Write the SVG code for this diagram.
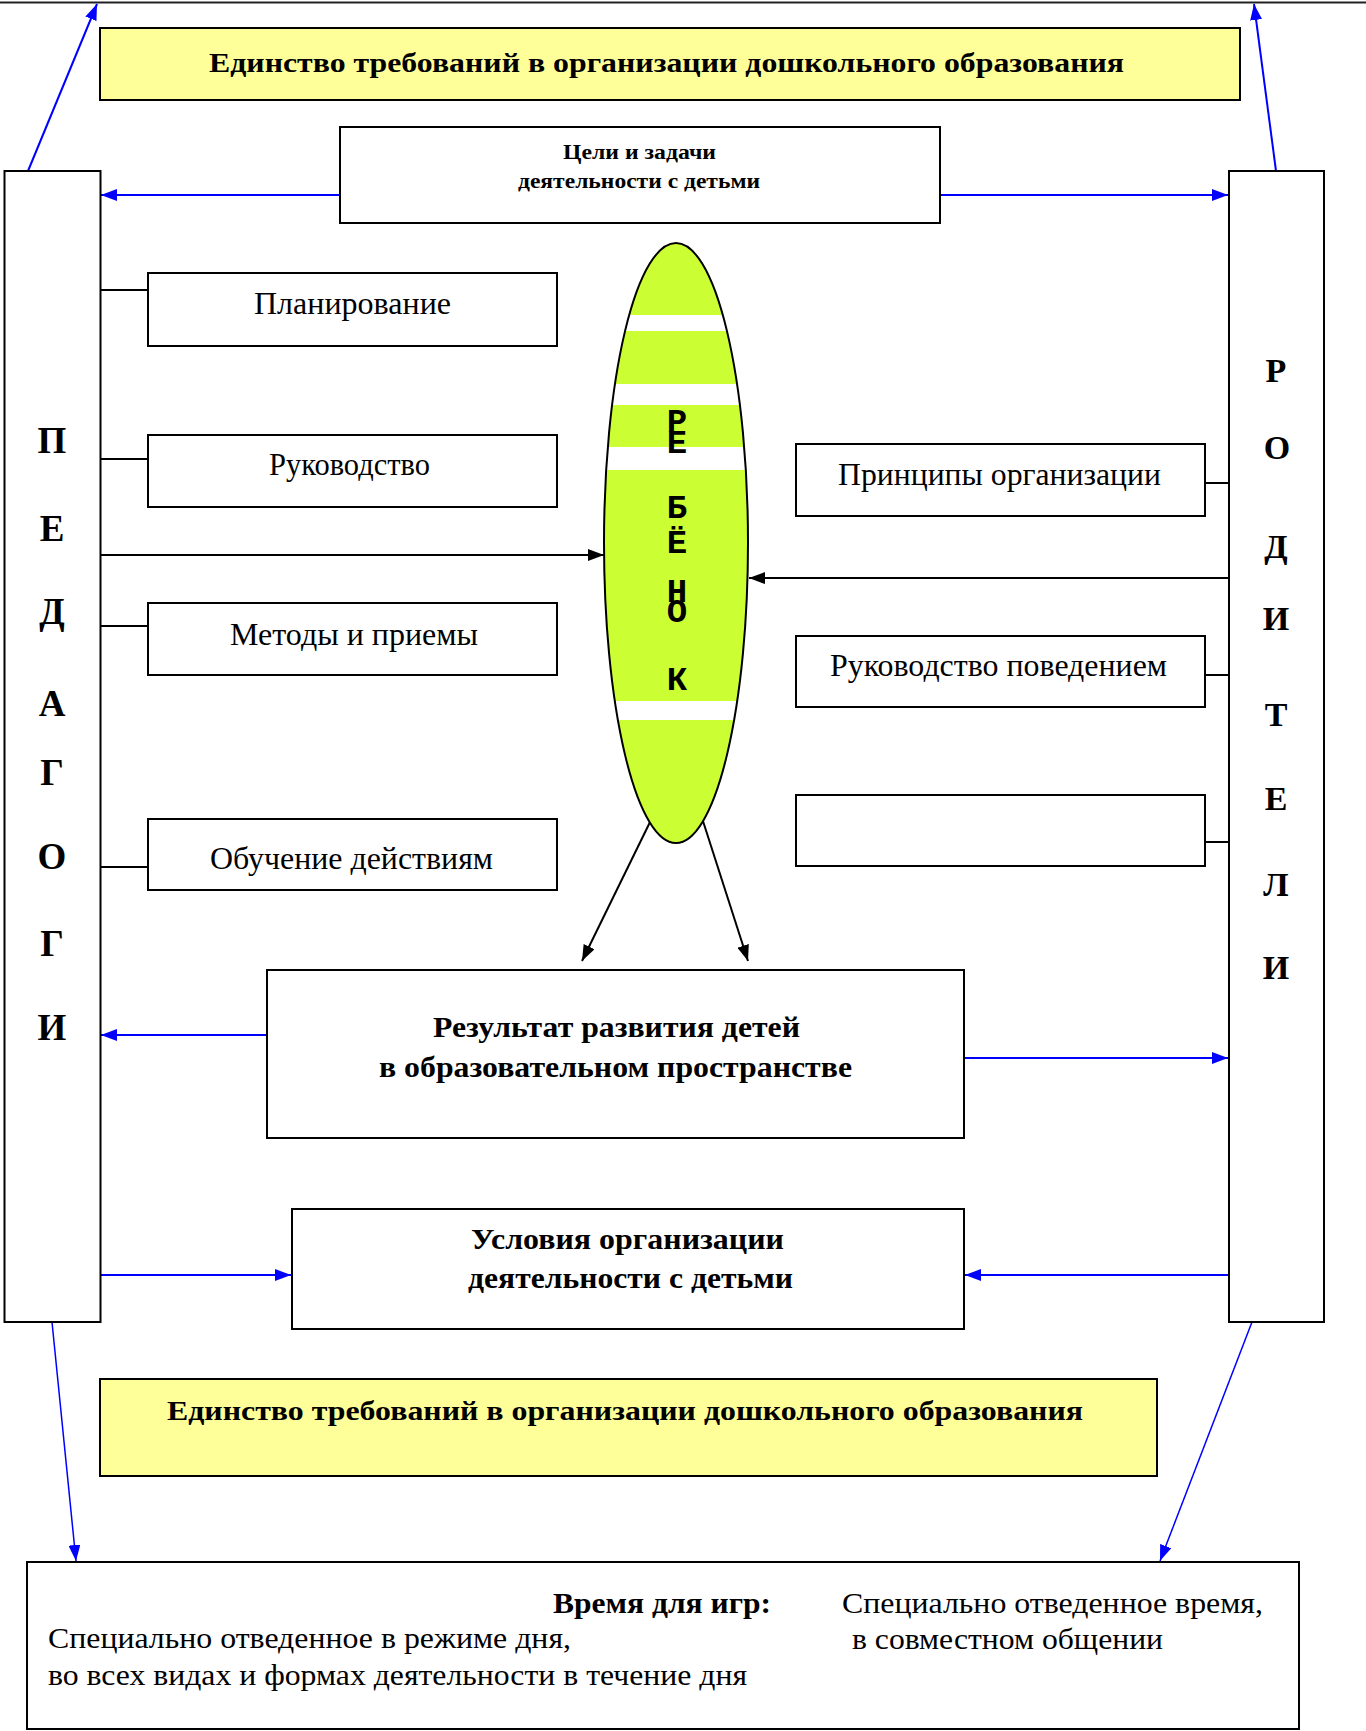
<svg xmlns="http://www.w3.org/2000/svg" width="1366" height="1731" viewBox="0 0 1366 1731">
<style>
.box{fill:#ffffff;stroke:#000;stroke-width:2}
.yel{fill:#ffff99;stroke:#000;stroke-width:2}
.t{font-family:"Liberation Serif","Times New Roman",serif;fill:#000}
.b{font-weight:bold}
.c{text-anchor:middle}
.blue{stroke:#0000ff;stroke-width:2;fill:none}
.blk{stroke:#000;stroke-width:2;fill:none}
.thin{stroke:#0000ff;stroke-width:1.5;fill:none}
.mono{font-family:"Liberation Mono","Courier New",monospace;font-weight:bold;font-size:34px;text-anchor:middle}
</style>
<defs>
<marker id="ab" markerUnits="userSpaceOnUse" markerWidth="16" markerHeight="12" refX="16" refY="6" orient="auto"><path d="M0,0 L16,6 L0,12 z" fill="#0000ff"/></marker>
<marker id="ak" markerUnits="userSpaceOnUse" markerWidth="16" markerHeight="12" refX="16" refY="6" orient="auto"><path d="M0,0 L16,6 L0,12 z" fill="#000"/></marker>
<clipPath id="ec"><ellipse cx="676" cy="543" rx="72" ry="300"/></clipPath>
</defs>

<g id="connectors">
<line x1="0" y1="2.5" x2="1366" y2="2.5" stroke="#222" stroke-width="2"/>
<line class="blue" x1="28" y1="171" x2="97" y2="4" marker-end="url(#ab)"/>
<line class="blue" x1="1276" y1="171" x2="1254" y2="4" marker-end="url(#ab)"/>
<line class="blue" x1="340" y1="195" x2="101" y2="195" marker-end="url(#ab)"/>
<line class="blue" x1="940" y1="195" x2="1228" y2="195" marker-end="url(#ab)"/>
<line class="blk" x1="100" y1="290" x2="148" y2="290"/>
<line class="blk" x1="100" y1="459" x2="148" y2="459"/>
<line class="blk" x1="100" y1="626" x2="148" y2="626"/>
<line class="blk" x1="100" y1="867" x2="148" y2="867"/>
<line class="blk" x1="1205" y1="483" x2="1229" y2="483"/>
<line class="blk" x1="1205" y1="675" x2="1229" y2="675"/>
<line class="blk" x1="1205" y1="842" x2="1229" y2="842"/>
<line class="blk" x1="100" y1="555" x2="604" y2="555" marker-end="url(#ak)"/>
<line class="blk" x1="1229" y1="578" x2="749" y2="578" marker-end="url(#ak)"/>
<line class="blk" x1="652" y1="818" x2="582" y2="961" marker-end="url(#ak)"/>
<line class="blk" x1="702" y1="818" x2="748" y2="961" marker-end="url(#ak)"/>
<line class="blue" x1="267" y1="1035" x2="101" y2="1035" marker-end="url(#ab)"/>
<line class="blue" x1="964" y1="1058" x2="1228" y2="1058" marker-end="url(#ab)"/>
<line class="blue" x1="101" y1="1275" x2="291" y2="1275" marker-end="url(#ab)"/>
<line class="blue" x1="1228" y1="1275" x2="965" y2="1275" marker-end="url(#ab)"/>
<line class="thin" x1="52" y1="1322" x2="76" y2="1561" marker-end="url(#ab)"/>
<line class="thin" x1="1252" y1="1322" x2="1160" y2="1561" marker-end="url(#ab)"/>
</g>

<g id="top-unity">
<rect class="yel" x="100" y="28" width="1140" height="72"/>
<text class="t b" x="209" y="72" font-size="28" textLength="915" lengthAdjust="spacingAndGlyphs">Единство требований в организации дошкольного образования</text>
</g>

<g id="goals">
<rect class="box" x="340" y="127" width="600" height="96"/>
<text class="t b" x="563" y="159" font-size="22" textLength="153" lengthAdjust="spacingAndGlyphs">Цели и задачи</text>
<text class="t b" x="518" y="188" font-size="22" textLength="242" lengthAdjust="spacingAndGlyphs">деятельности с детьми</text>
</g>

<g id="pedagogi">
<rect class="box" x="4.5" y="171" width="96" height="1151"/>
<g class="t b c" font-size="37">
<text x="52" y="453">П</text>
<text x="52" y="541">Е</text>
<text x="52" y="624">Д</text>
<text x="52" y="716">А</text>
<text x="52" y="785">Г</text>
<text x="52" y="869">О</text>
<text x="52" y="956">Г</text>
<text x="52" y="1040">И</text>
</g>
</g>

<g id="roditeli">
<rect class="box" x="1229" y="171" width="95" height="1151"/>
<g class="t b c" font-size="34">
<text x="1276" y="382">Р</text>
<text x="1277" y="459">О</text>
<text x="1276" y="558">Д</text>
<text x="1276" y="630">И</text>
<text x="1276" y="726">Т</text>
<text x="1276" y="810">Е</text>
<text x="1276" y="896">Л</text>
<text x="1276" y="979">И</text>
</g>
</g>

<g id="planirovanie">
<rect class="box" x="148" y="273" width="409" height="73"/>
<text class="t" x="254" y="314" font-size="31" textLength="197" lengthAdjust="spacingAndGlyphs">Планирование</text>
</g>
<g id="rukovodstvo">
<rect class="box" x="148" y="435" width="409" height="72"/>
<text class="t" x="269" y="475" font-size="31" textLength="161" lengthAdjust="spacingAndGlyphs">Руководство</text>
</g>
<g id="metody">
<rect class="box" x="148" y="603" width="409" height="72"/>
<text class="t" x="230" y="645" font-size="31" textLength="248" lengthAdjust="spacingAndGlyphs">Методы и приемы</text>
</g>
<g id="obuchenie">
<rect class="box" x="148" y="819" width="409" height="71"/>
<text class="t" x="210" y="869" font-size="31" textLength="283" lengthAdjust="spacingAndGlyphs">Обучение действиям</text>
</g>

<g id="principy">
<rect class="box" x="796" y="444" width="409" height="72"/>
<text class="t" x="838" y="485" font-size="31" textLength="323" lengthAdjust="spacingAndGlyphs">Принципы организации</text>
</g>
<g id="rukovodstvo-povedeniem">
<rect class="box" x="796" y="636" width="409" height="71"/>
<text class="t" x="830" y="676" font-size="31" textLength="337" lengthAdjust="spacingAndGlyphs">Руководство поведением</text>
</g>
<g id="empty-box">
<rect class="box" x="796" y="795" width="409" height="71"/>
</g>

<g id="rebenok">
<ellipse cx="676" cy="543" rx="72" ry="300" fill="#ccff33"/>
<g clip-path="url(#ec)" fill="#ffffff">
<rect x="600" y="315" width="160" height="16"/>
<rect x="600" y="384" width="160" height="21"/>
<rect x="600" y="447" width="160" height="23"/>
<rect x="600" y="701" width="160" height="19"/>
</g>
<ellipse cx="676" cy="543" rx="72" ry="300" fill="none" stroke="#000" stroke-width="2"/>
<g class="mono">
<text x="677" y="432">Р</text>
<text x="677" y="453">Е</text>
<text x="677" y="518">Б</text>
<text x="677" y="553">Ё</text>
<text x="677" y="602">Н</text>
<text x="677" y="622">О</text>
<text x="677" y="690">К</text>
</g>
</g>

<g id="rezultat">
<rect class="box" x="267" y="970" width="697" height="168"/>
<text class="t b" x="433" y="1037" font-size="29" textLength="367" lengthAdjust="spacingAndGlyphs">Результат развития детей</text>
<text class="t b" x="379" y="1077" font-size="29" textLength="473" lengthAdjust="spacingAndGlyphs">в образовательном пространстве</text>
</g>

<g id="usloviya">
<rect class="box" x="292" y="1209" width="672" height="120"/>
<text class="t b" x="471" y="1249" font-size="29" textLength="313" lengthAdjust="spacingAndGlyphs">Условия организации</text>
<text class="t b" x="468" y="1288" font-size="29" textLength="325" lengthAdjust="spacingAndGlyphs">деятельности с детьми</text>
</g>

<g id="bottom-unity">
<rect class="yel" x="100" y="1379" width="1057" height="97"/>
<text class="t b" x="167" y="1420" font-size="28" textLength="916" lengthAdjust="spacingAndGlyphs">Единство требований в организации дошкольного образования</text>
</g>

<g id="vremya">
<rect class="box" x="27" y="1562" width="1272" height="167"/>
<text class="t b" x="553" y="1613" font-size="30" textLength="218" lengthAdjust="spacingAndGlyphs">Время для игр:</text>
<text class="t" x="842" y="1613" font-size="30" textLength="421" lengthAdjust="spacingAndGlyphs">Специально отведенное время,</text>
<text class="t" x="852" y="1649" font-size="30" textLength="311" lengthAdjust="spacingAndGlyphs">в совместном общении</text>
<text class="t" x="48" y="1648" font-size="30" textLength="523" lengthAdjust="spacingAndGlyphs">Специально отведенное в режиме дня,</text>
<text class="t" x="48" y="1685" font-size="30" textLength="699" lengthAdjust="spacingAndGlyphs">во всех видах и формах деятельности в течение дня</text>
</g>
</svg>
